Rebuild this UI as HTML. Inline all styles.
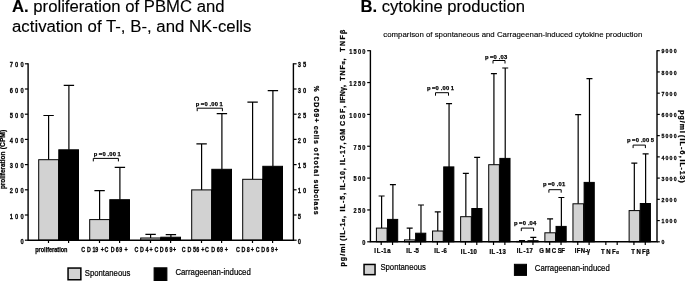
<!DOCTYPE html><html><head><meta charset="utf-8"><title>Figure</title><style>
html,body{margin:0;padding:0;background:#fff;}body{width:685px;height:281px;overflow:hidden;position:relative;}svg{filter:grayscale(1);position:absolute;left:0;top:0;display:block;font-family:"Liberation Sans",sans-serif;}
text{fill:#000;stroke:#000;stroke-width:0.12;}.lg{stroke-width:0.2;}.b{font-weight:bold;stroke:#000;stroke-width:0.25;}
.ax{stroke:#000;stroke-width:1.4;fill:none;}
.tk{stroke:#000;stroke-width:1.2;fill:none;}
.e{stroke:#000;stroke-width:1.2;fill:none;}
.g{fill:#d2d2d2;stroke:#000;stroke-width:1;}
.k{fill:#000;stroke:#000;stroke-width:1;}
</style></head><body>
<svg width="685" height="281" viewBox="0 0 685 281">
<rect width="685" height="281" fill="#fff"/>
<text x="12" y="11.9" font-size="15.6" stroke="none" textLength="212.5" lengthAdjust="spacingAndGlyphs"><tspan font-weight="bold">A.</tspan> proliferation of PBMC and</text>
<text x="12" y="31.8" font-size="15.6" stroke="none" textLength="239.5" lengthAdjust="spacingAndGlyphs">activation of T-, B-, and NK-cells</text>
<text x="360.5" y="11.9" font-size="15.6" stroke="none" textLength="164.5" lengthAdjust="spacingAndGlyphs"><tspan font-weight="bold">B.</tspan> cytokine production</text>
<text x="383.3" y="36.8" font-size="7.3" textLength="259" lengthAdjust="spacingAndGlyphs">comparison of spontaneous and Carrageenan-induced cytokine production</text>
<g transform="translate(0 0.3)">
<path class="e" d="M48.6 159.4 V115.2 M43.4 115.2 H53.8"/>
<rect class="g" x="38.7" y="159.4" width="19.9" height="80.5"/>
<path class="e" d="M68.9 149.5 V85.1 M63.7 85.1 H74.1"/>
<rect class="k" x="58.8" y="149.5" width="19.7" height="90.4"/>
<path class="tk" d="M48.5 239.9 v2.9 M68.6 239.9 v2.9"/>
<text class="b" x="35.2" y="251.5" font-size="6.3" textLength="32.3" lengthAdjust="spacingAndGlyphs">proliferation</text>
<path class="e" d="M99.6 219.3 V190.3 M94.4 190.3 H104.8"/>
<rect class="g" x="89.7" y="219.3" width="19.9" height="20.6"/>
<path class="e" d="M119.9 199.4 V167.1 M114.7 167.1 H125.1"/>
<rect class="k" x="109.8" y="199.4" width="19.7" height="40.5"/>
<path class="tk" d="M99.5 239.9 v2.9 M119.6 239.9 v2.9"/>
<text class="b" transform="scale(0.8 1)" x="101.44 108.69 115.69 119.06 125.94 130.56 138.31 144.69 148.94 155.69" y="251.4" font-size="6.7">CD19+CD69+</text>
<path class="e" d="M150.6 237.7 V234 M145.4 234 H155.8"/>
<rect class="g" x="140.7" y="237.7" width="19.9" height="2.2"/>
<path class="e" d="M170.9 236.9 V234.3 M165.7 234.3 H176.1"/>
<rect class="k" x="160.8" y="236.9" width="19.7" height="3"/>
<path class="tk" d="M150.5 239.9 v2.9 M170.6 239.9 v2.9"/>
<text class="b" transform="scale(0.8 1)" x="168.19 175.06 181.81 186.81 193.06 199.81 206.19 211.94 216.31" y="251.4" font-size="6.7">CD4+CD69+</text>
<path class="e" d="M201.6 189.6 V143.5 M196.4 143.5 H206.8"/>
<rect class="g" x="191.7" y="189.6" width="19.9" height="50.3"/>
<path class="e" d="M221.9 169 V113.4 M216.7 113.4 H227.1"/>
<rect class="k" x="211.8" y="169" width="19.7" height="70.9"/>
<path class="tk" d="M201.5 239.9 v2.9 M221.6 239.9 v2.9"/>
<text class="b" transform="scale(0.8 1)" x="227.31 234.44 241.19 245.31 251.69 256.31 263.94 270.94 275.06 281.06" y="251.4" font-size="6.7">CD56+CD69+</text>
<path class="e" d="M252.6 179 V101.8 M247.4 101.8 H257.8"/>
<rect class="g" x="242.7" y="179" width="19.9" height="60.9"/>
<path class="e" d="M272.9 166 V90.3 M267.7 90.3 H278.1"/>
<rect class="k" x="262.8" y="166" width="19.7" height="73.9"/>
<path class="tk" d="M252.5 239.9 v2.9 M272.6 239.9 v2.9"/>
<text class="b" transform="scale(0.8 1)" x="294.94 301.94 308.56 313.31 319.81 326.56 332.81 338.69 343.44" y="251.4" font-size="6.7">CD8+CD69+</text>
<path class="ax" d="M28.1 63 V239.9 H293.4 V63"/>
<path class="tk" d="M28.1 239.9 h-3.2"/>
<path class="tk" d="M293.4 239.9 h3.2"/>
<text class="b" transform="scale(0.86 1)" x="23.83" y="243.5" font-size="6.7">0</text>
<text class="b" transform="scale(0.86 1)" x="346.16" y="243.5" font-size="6.7">0</text>
<path class="tk" d="M28.1 214.7 h-3.2"/>
<path class="tk" d="M293.4 214.7 h3.2"/>
<text class="b" transform="scale(0.86 1)" x="11.27 17.55 23.83" y="218.3" font-size="6.7">100</text>
<text class="b" transform="scale(0.86 1)" x="346.16" y="218.3" font-size="6.7">5</text>
<path class="tk" d="M28.1 189.5 h-3.2"/>
<path class="tk" d="M293.4 189.5 h3.2"/>
<text class="b" transform="scale(0.86 1)" x="11.27 17.55 23.83" y="193.1" font-size="6.7">200</text>
<text class="b" transform="scale(0.86 1)" x="346.16 352.38" y="193.1" font-size="6.7">10</text>
<path class="tk" d="M28.1 164.3 h-3.2"/>
<path class="tk" d="M293.4 164.3 h3.2"/>
<text class="b" transform="scale(0.86 1)" x="11.27 17.55 23.83" y="167.9" font-size="6.7">300</text>
<text class="b" transform="scale(0.86 1)" x="346.16 352.38" y="167.9" font-size="6.7">15</text>
<path class="tk" d="M28.1 139.1 h-3.2"/>
<path class="tk" d="M293.4 139.1 h3.2"/>
<text class="b" transform="scale(0.86 1)" x="11.27 17.55 23.83" y="142.7" font-size="6.7">400</text>
<text class="b" transform="scale(0.86 1)" x="346.16 352.38" y="142.7" font-size="6.7">20</text>
<path class="tk" d="M28.1 113.9 h-3.2"/>
<path class="tk" d="M293.4 113.9 h3.2"/>
<text class="b" transform="scale(0.86 1)" x="11.27 17.55 23.83" y="117.5" font-size="6.7">500</text>
<text class="b" transform="scale(0.86 1)" x="346.16 352.38" y="117.5" font-size="6.7">25</text>
<path class="tk" d="M28.1 88.7 h-3.2"/>
<path class="tk" d="M293.4 88.7 h3.2"/>
<text class="b" transform="scale(0.86 1)" x="11.27 17.55 23.83" y="92.3" font-size="6.7">600</text>
<text class="b" transform="scale(0.86 1)" x="346.16 352.38" y="92.3" font-size="6.7">30</text>
<path class="tk" d="M28.1 63.5 h-3.2"/>
<path class="tk" d="M293.4 63.5 h3.2"/>
<text class="b" transform="scale(0.86 1)" x="11.27 17.55 23.83" y="67.1" font-size="6.7">700</text>
<text class="b" transform="scale(0.86 1)" x="346.16 352.38" y="67.1" font-size="6.7">35</text>
<path class="e" style="stroke-width:1" d="M93.3 161.1 V158.1 H118.4 V161.1"/>
<text class="b" x="93.7 98.7 102.4 107.6 109.3 112.8 117.5" y="156.1" font-size="5.8">p=0.001</text>
<path class="e" style="stroke-width:1" d="M197.2 110.9 V107.9 H222.4 V110.9"/>
<text class="b" x="195.7 200.7 204.4 209.6 211.3 214.8 219.5" y="105.9" font-size="5.8">p=0.001</text>
<text class="b" transform="translate(4.5 188.8) rotate(-90)" font-size="7" textLength="37.4" lengthAdjust="spacingAndGlyphs">proliferation</text>
<text class="b" transform="translate(4.5 148.9) rotate(-90)" font-size="7" textLength="19.4" lengthAdjust="spacingAndGlyphs">(CPM)</text>
<text class="b" transform="translate(314.1 85.4) rotate(90)" font-size="7" textLength="5.8" lengthAdjust="spacingAndGlyphs">%</text>
<text class="b" transform="translate(314.1 95.9) rotate(90)" font-size="7" textLength="26.2" lengthAdjust="spacing">CD69+</text>
<text class="b" transform="translate(314.1 125.5) rotate(90)" font-size="7" textLength="18" lengthAdjust="spacing">cells</text>
<text class="b" transform="translate(314.1 147.1) rotate(90)" font-size="7" textLength="7.9" lengthAdjust="spacing">of</text>
<text class="b" transform="translate(314.1 156.7) rotate(90)" font-size="7" textLength="19.1" lengthAdjust="spacing">total</text>
<text class="b" transform="translate(314.1 179.2) rotate(90)" font-size="7" textLength="35.2" lengthAdjust="spacing">subclass</text>
</g>
<rect class="g" style="stroke-width:1.5" x="68.05" y="268.05" width="12.8" height="11.7"/>
<text class="lg" x="84.8" y="275.7" font-size="8.3" textLength="45.6" lengthAdjust="spacingAndGlyphs">Spontaneous</text>
<rect class="k" x="154.1" y="267.8" width="12.8" height="16"/>
<text class="lg" x="175.4" y="274.7" font-size="8.3" textLength="75.4" lengthAdjust="spacingAndGlyphs">Carrageenan-induced</text>
<g transform="translate(0 0.4)">
<path class="e" d="M381.6 227.7 V195.6 M378.6 195.6 H384.6"/>
<rect class="g" x="376.4" y="227.7" width="10.65" height="13.7"/>
<path class="e" d="M392.9 219 V184.3 M389.9 184.3 H395.9"/>
<rect class="k" x="387.55" y="219" width="10.15" height="22.4"/>
<path class="tk" d="M381.2 241.4 v3.3 M392.55 241.4 v3.3"/>
<text class="b" transform="scale(0.88 1)" x="425.4 428.01 433.24 435.51 440.17" y="252.8" font-size="6.8">IL-1a</text>
<path class="e" d="M409.68 239.5 V227.7 M406.68 227.7 H412.68"/>
<rect class="g" x="404.48" y="239.5" width="10.65" height="1.9"/>
<path class="e" d="M420.98 232.8 V204.6 M417.98 204.6 H423.98"/>
<rect class="k" x="415.63" y="232.8" width="10.15" height="8.6"/>
<path class="tk" d="M409.28 241.4 v3.3 M420.63 241.4 v3.3"/>
<text class="b" transform="scale(0.88 1)" x="461.53 463.92 470.06 472.22" y="252.5" font-size="6.8">IL-5</text>
<path class="e" d="M437.76 230.6 V211.4 M434.76 211.4 H440.76"/>
<rect class="g" x="432.56" y="230.6" width="10.65" height="10.8"/>
<path class="e" d="M449.06 166.5 V103.3 M446.06 103.3 H452.06"/>
<rect class="k" x="443.71" y="166.5" width="10.15" height="74.9"/>
<path class="tk" d="M437.36 241.4 v3.3 M448.71 241.4 v3.3"/>
<text class="b" transform="scale(0.88 1)" x="493.35 495.74 501.76 504.03" y="252.5" font-size="6.8">IL-6</text>
<path class="e" d="M465.84 216.3 V173 M462.84 173 H468.84"/>
<rect class="g" x="460.64" y="216.3" width="10.65" height="25.1"/>
<path class="e" d="M477.14 208.1 V157 M474.14 157 H480.14"/>
<rect class="k" x="471.79" y="208.1" width="10.15" height="33.3"/>
<path class="tk" d="M465.44 241.4 v3.3 M476.79 241.4 v3.3"/>
<text class="b" transform="scale(0.88 1)" x="523.58 526.08 531.42 534.03 538.12" y="253.2" font-size="6.8">IL-10</text>
<path class="e" d="M493.92 164.3 V73.2 M490.92 73.2 H496.92"/>
<rect class="g" x="488.72" y="164.3" width="10.65" height="77.1"/>
<path class="e" d="M505.22 158 V67.6 M502.22 67.6 H508.22"/>
<rect class="k" x="499.87" y="158" width="10.15" height="83.4"/>
<path class="tk" d="M493.52 241.4 v3.3 M504.87 241.4 v3.3"/>
<text class="b" transform="scale(0.88 1)" x="556.31 558.58 564.15 566.88 570.97" y="253.2" font-size="6.8">IL-13</text>
<path class="e" d="M522 241 V240.3 M519 240.3 H525"/>
<rect class="g" x="516.8" y="241" width="10.65" height="0.4"/>
<path class="e" d="M533.3 240.3 V237 M530.3 237 H536.3"/>
<rect class="k" x="527.95" y="240.3" width="10.15" height="1.1"/>
<path class="tk" d="M521.6 241.4 v3.3 M532.95 241.4 v3.3"/>
<text class="b" transform="scale(0.88 1)" x="587.1 589.49 594.94 597.78 601.65" y="252.4" font-size="6.8">IL-17</text>
<path class="e" d="M550.08 232.4 V218.4 M547.08 218.4 H553.08"/>
<rect class="g" x="544.88" y="232.4" width="10.65" height="9"/>
<path class="e" d="M561.38 226 V197.1 M558.38 197.1 H564.38"/>
<rect class="k" x="556.03" y="226" width="10.15" height="15.4"/>
<path class="tk" d="M549.68 241.4 v3.3 M561.03 241.4 v3.3"/>
<text class="b" transform="scale(0.88 1)" x="612.9 619.83 626.99 633.69 637.9" y="252.5" font-size="6.8">GMCSF</text>
<path class="e" d="M578.16 203.4 V114.3 M575.16 114.3 H581.16"/>
<rect class="g" x="572.96" y="203.4" width="10.65" height="38"/>
<path class="e" d="M589.46 182 V78.2 M586.46 78.2 H592.46"/>
<rect class="k" x="584.11" y="182" width="10.15" height="59.4"/>
<path class="tk" d="M577.76 241.4 v3.3 M589.11 241.4 v3.3"/>
<text class="b" transform="scale(0.88 1)" x="653.01 655.51 660.06 665.17 666.65" y="252.8" font-size="6.8">IFN-γ</text>
<path class="tk" d="M605.84 241.4 v3.3 M617.19 241.4 v3.3"/>
<text class="b" transform="scale(0.88 1)" x="682.9 689.03 695.4 700.4" y="254" font-size="6.8">TNF<tspan font-size="4.8">α</tspan></text>
<path class="e" d="M634.32 210.2 V162.8 M631.32 162.8 H637.32"/>
<rect class="g" x="629.12" y="210.2" width="10.65" height="31.2"/>
<path class="e" d="M645.62 203.1 V153.5 M642.62 153.5 H648.62"/>
<rect class="k" x="640.27" y="203.1" width="10.15" height="38.3"/>
<path class="tk" d="M633.92 241.4 v3.3 M645.27 241.4 v3.3"/>
<text class="b" transform="scale(0.88 1)" x="717.22 723.24 729.6 734.15" y="254" font-size="6.8">TNFβ</text>
<path class="ax" d="M370.4 49.8 V241.4 H657 V49.8"/>
<path class="tk" d="M370.4 241.4 h-3.2"/>
<text class="b" transform="scale(0.88 1)" x="411.78" y="244.8" font-size="6.4">0</text>
<path class="tk" d="M370.4 209.55 h-3.2"/>
<text class="b" transform="scale(0.88 1)" x="401.78 406.78 411.78" y="212.95" font-size="6.4">250</text>
<path class="tk" d="M370.4 177.7 h-3.2"/>
<text class="b" transform="scale(0.88 1)" x="401.78 406.78 411.78" y="181.1" font-size="6.4">500</text>
<path class="tk" d="M370.4 145.85 h-3.2"/>
<text class="b" transform="scale(0.88 1)" x="401.78 406.78 411.78" y="149.25" font-size="6.4">750</text>
<path class="tk" d="M370.4 114 h-3.2"/>
<text class="b" transform="scale(0.88 1)" x="396.78 401.78 406.78 411.78" y="117.4" font-size="6.4">1000</text>
<path class="tk" d="M370.4 82.15 h-3.2"/>
<text class="b" transform="scale(0.88 1)" x="396.78 401.78 406.78 411.78" y="85.55" font-size="6.4">1250</text>
<path class="tk" d="M370.4 50.3 h-3.2"/>
<text class="b" transform="scale(0.88 1)" x="396.78 401.78 406.78 411.78" y="53.7" font-size="6.4">1500</text>
<path class="tk" d="M657 241.4 h2.8"/>
<text class="b" transform="scale(0.86 1)" x="769.19" y="244.1" font-size="6.1">0</text>
<path class="tk" d="M657 220.17 h2.8"/>
<text class="b" transform="scale(0.86 1)" x="769.19 773.9 778.6 783.31" y="222.87" font-size="6.1">1000</text>
<path class="tk" d="M657 198.93 h2.8"/>
<text class="b" transform="scale(0.86 1)" x="769.19 773.9 778.6 783.31" y="201.63" font-size="6.1">2000</text>
<path class="tk" d="M657 177.7 h2.8"/>
<text class="b" transform="scale(0.86 1)" x="769.19 773.9 778.6 783.31" y="180.4" font-size="6.1">3000</text>
<path class="tk" d="M657 156.47 h2.8"/>
<text class="b" transform="scale(0.86 1)" x="769.19 773.9 778.6 783.31" y="159.17" font-size="6.1">4000</text>
<path class="tk" d="M657 135.23 h2.8"/>
<text class="b" transform="scale(0.86 1)" x="769.19 773.9 778.6 783.31" y="137.93" font-size="6.1">5000</text>
<path class="tk" d="M657 114 h2.8"/>
<text class="b" transform="scale(0.86 1)" x="769.19 773.9 778.6 783.31" y="116.7" font-size="6.1">6000</text>
<path class="tk" d="M657 92.77 h2.8"/>
<text class="b" transform="scale(0.86 1)" x="769.19 773.9 778.6 783.31" y="95.47" font-size="6.1">7000</text>
<path class="tk" d="M657 71.53 h2.8"/>
<text class="b" transform="scale(0.86 1)" x="769.19 773.9 778.6 783.31" y="74.23" font-size="6.1">8000</text>
<path class="tk" d="M657 50.3 h2.8"/>
<text class="b" transform="scale(0.86 1)" x="769.19 773.9 778.6 783.31" y="53" font-size="6.1">9000</text>
<path class="e" style="stroke-width:1" d="M435.5 95.3 V92.3 H448.5 V95.3"/>
<text class="b" x="426.9 431.9 435.6 440.8 442.5 446 450.7" y="89.7" font-size="5.8">p=0.001</text>
<path class="e" style="stroke-width:1" d="M493 63.1 V60.1 H505 V63.1"/>
<text class="b" x="484.9 489.9 493.6 498.8 500.5 504" y="59.1" font-size="5.8">p=0.03</text>
<path class="e" style="stroke-width:1" d="M521.3 230.7 V227.7 H533.6 V230.7"/>
<text class="b" x="514 519 522.7 527.9 529.6 533.1" y="225" font-size="5.8">p=0.04</text>
<path class="e" style="stroke-width:1" d="M548.9 192.3 V189.3 H561.2 V192.3"/>
<text class="b" x="542.9 547.9 551.6 556.8 558.5 562" y="186" font-size="5.8">p=0.01</text>
<path class="e" style="stroke-width:1" d="M633.1 147.7 V144.7 H645.4 V147.7"/>
<text class="b" x="627 632 635.7 640.9 642.6 646.1 650.8" y="141.4" font-size="5.8">p=0.005</text>
<text class="b" transform="translate(344.9 266.1) rotate(-90) scale(1.12 1)" font-size="6.3" textLength="20.54" lengthAdjust="spacing">pg/ml</text>
<text class="b" transform="translate(344.9 240.3) rotate(-90) scale(1.12 1)" font-size="6.3" textLength="22.05" lengthAdjust="spacing">(IL-1<tspan font-size="4.6">α</tspan>,</text>
<text class="b" transform="translate(344.9 211) rotate(-90) scale(1.12 1)" font-size="6.3" textLength="16.61" lengthAdjust="spacing">IL-5,</text>
<text class="b" transform="translate(344.9 189.6) rotate(-90) scale(1.12 1)" font-size="6.3" textLength="19.29" lengthAdjust="spacing">IL-10,</text>
<text class="b" transform="translate(344.9 164.7) rotate(-90) scale(1.12 1)" font-size="6.3" textLength="20.18" lengthAdjust="spacing">IL-17,</text>
<text class="b" transform="translate(344.9 140.3) rotate(-90) scale(1.12 1)" font-size="6.3" textLength="10.62" lengthAdjust="spacing">GM</text>
<text class="b" transform="translate(344.9 125.6) rotate(-90) scale(1.12 1)" font-size="6.3" textLength="17.95" lengthAdjust="spacing">CSF,</text>
<text class="b" transform="translate(344.9 102.5) rotate(-90) scale(1.12 1)" font-size="6.3" textLength="15.98" lengthAdjust="spacing">IFNγ,</text>
<text class="b" transform="translate(344.9 80.3) rotate(-90) scale(1.12 1)" font-size="6.3" textLength="19.82" lengthAdjust="spacing">TNF<tspan font-size="4.6">α</tspan>,</text>
<text class="b" transform="translate(344.9 51.3) rotate(-90) scale(1.12 1)" font-size="6.3" textLength="19.73" lengthAdjust="spacing">TNFβ</text>
<text class="b" transform="translate(679.8 109.8) rotate(90) scale(1.12 1)" font-size="6.3" textLength="20.27" lengthAdjust="spacing">pg/ml</text>
<text class="b" transform="translate(679.8 134.6) rotate(90) scale(1.12 1)" font-size="6.3" textLength="20.18" lengthAdjust="spacing">(IL-6,</text>
<text class="b" transform="translate(679.8 159.2) rotate(90) scale(1.12 1)" font-size="6.3" textLength="20.54" lengthAdjust="spacing">IL-13)</text>
</g>
<rect class="g" style="stroke-width:1.5" x="364.05" y="264.45" width="11" height="10.2"/>
<text class="lg" x="380.4" y="270.1" font-size="8.3" textLength="45.5" lengthAdjust="spacingAndGlyphs">Spontaneous</text>
<rect class="k" x="514.4" y="264.3" width="12.1" height="11.1"/>
<text class="lg" x="534.8" y="271" font-size="8.3" textLength="74.9" lengthAdjust="spacingAndGlyphs">Carrageenan-induced</text>
</svg></body></html>
